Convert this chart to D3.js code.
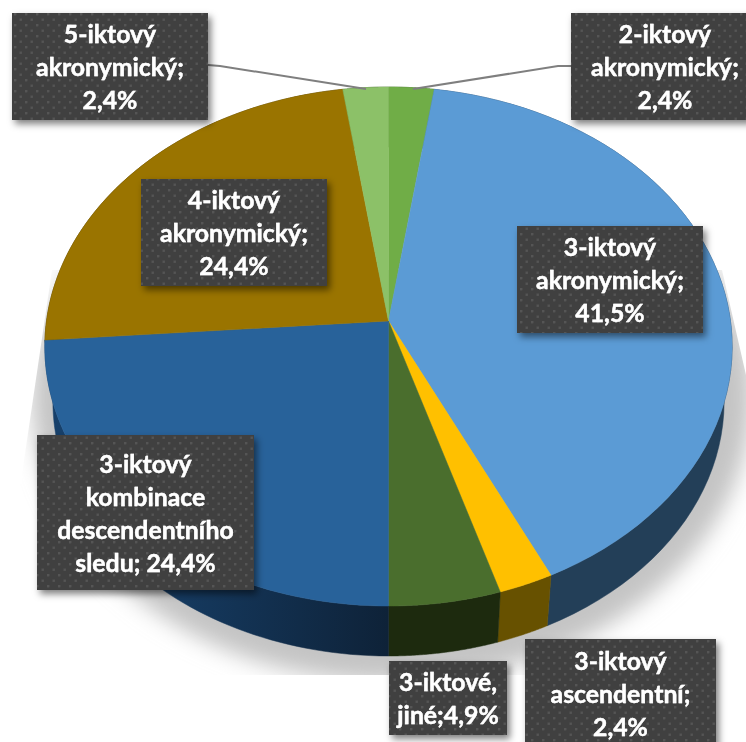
<!DOCTYPE html>
<html>
<head>
<meta charset="utf-8">
<script src="https://cdnjs.cloudflare.com/ajax/libs/d3/7.8.5/d3.min.js"></script>
<style>
html, body { margin: 0; padding: 0; background: #fff; overflow: hidden; }
svg { display: block; }
text { font-family: Lato, "Open Sans", sans-serif; font-weight: 700; fill: #fff; stroke: #fff; stroke-width: 0.35; text-anchor: middle; }
</style>
</head>
<body>
<svg id="chart" width="746" height="742"></svg>
<script>
var categories = ["2-iktový akronymický", "3-iktový akronymický", "3-iktový ascendentní", "3-iktové, jiné",
                  "3-iktový kombinace descendentního sledu", "4-iktový akronymický", "5-iktový akronymický"];
var values = [2.4, 41.5, 2.4, 4.9, 24.4, 24.4, 2.4];
var topColors = ["#70ad47", "#5b9bd5", "#ffc000", "#4a6e2d", "#28629a", "#9a7400", "#8cc168"];
var wallColors = ["#38572a", "#233f58", "#675100", "#1d2a0e", "url(#wallBlue)", "#3e2f00", "#384d2a"];
var labelLines = [
    ["2-iktový", "akronymický;", "2,4%"],
    ["3-iktový", "akronymický;", "41,5%"],
    ["3-iktový", "ascendentní;", "2,4%"],
    ["3-iktové,", "jiné;4,9%"],
    ["3-iktový", "kombinace", "descendentního", "sledu; 24,4%"],
    ["4-iktový", "akronymický;", "24,4%"],
    ["5-iktový", "akronymický;", "2,4%"]
];
// label boxes, same order as categories: left, top, right, bottom, text centre
var labelBoxes = [
    [571, 13, 750, 120, 665],
    [517, 226, 703, 333, 610],
    [525, 639, 716, 748, 620.5],
    [389, 661, 507, 735, 448],
    [37, 435, 254, 590, 145.5],
    [141, 179, 327, 286, 234],
    [12, 13, 208, 120, 110]
];
var leaderLines = [
    [[571, 66], [558, 66], [413, 89]],
    [[208, 65], [220, 66], [366, 89]]
];

var svg = d3.select("#chart"),
    defs = svg.append("defs");

var pattern = defs.append("pattern")
    .attr("id", "dots")
    .attr("patternUnits", "userSpaceOnUse")
    .attr("width", 11)
    .attr("height", 11);
pattern.append("rect").attr("width", 11).attr("height", 11).attr("fill", "#3f3f3f");
pattern.append("rect").attr("x", 3).attr("y", 2).attr("width", 2.4).attr("height", 2.4).attr("fill", "#555");
pattern.append("rect").attr("x", 8.5).attr("y", 7.5).attr("width", 2.4).attr("height", 2.4).attr("fill", "#555");

var wallBlue = defs.append("linearGradient")
    .attr("id", "wallBlue")
    .attr("gradientUnits", "userSpaceOnUse")
    .attr("x1", 120).attr("x2", 388).attr("y1", 0).attr("y2", 0);
wallBlue.append("stop").attr("offset", "0").attr("stop-color", "#17406a");
wallBlue.append("stop").attr("offset", "1").attr("stop-color", "#0e2238");

defs.append("filter").attr("id", "pieBlur")
    .attr("x", "-20%").attr("y", "-20%").attr("width", "140%").attr("height", "140%")
    .append("feGaussianBlur").attr("stdDeviation", 11);

var boxShadow = defs.append("filter").attr("id", "boxShadow")
    .attr("x", "-10%").attr("y", "-10%").attr("width", "125%").attr("height", "125%");
boxShadow.append("feDropShadow")
    .attr("dx", 3).attr("dy", 4).attr("stdDeviation", 3.5)
    .attr("flood-color", "#000").attr("flood-opacity", 0.5);

var textGlow = defs.append("filter").attr("id", "textGlow");
textGlow.append("feDropShadow")
    .attr("dx", 0).attr("dy", 0).attr("stdDeviation", 0.7)
    .attr("flood-color", "#fff").attr("flood-opacity", 0.45);

defs.append("clipPath").attr("id", "shadowClip")
    .append("polygon")
    .attr("points", "52,270 0,624 0,675 746,675 746,375 722,270");

// the pie is tilted, so the unit circle goes through a small perspective map
var persp = -0.0983;
function project(angle, shape) {
    var u = Math.sin(angle),
        v = -Math.cos(angle),
        w = 1 + persp * v;
    return [shape.cx + shape.rx * u / w, shape.cy + shape.ry * v / w];
}
var topShape = {cx: 388.5, cy: 321, rx: 342, ry: 257},
    bottomShape = {cx: 388.5, cy: 376.5, rx: 334, ry: 252};

function arcPoints(d, shape) {
    return d3.range(0, 61).map(function(i) {
        return project(d.startAngle + (d.endAngle - d.startAngle) * i / 60, shape);
    });
}

var pie = d3.pie().sort(null).value(function(d) { return d; });
var slices = pie(values);
var line = d3.line();

// shadow behind the pie, cut off hard at the plot area edge
svg.append("g")
    .attr("clip-path", "url(#shadowClip)")
    .append("ellipse")
    .attr("cx", 392).attr("cy", 397)
    .attr("rx", 360).attr("ry", 285)
    .attr("fill", "#c4c4c4")
    .attr("filter", "url(#pieBlur)");

svg.append("g").selectAll("path")
    .data(slices)
    .enter().append("path")
    .attr("d", function(d) {
        return line(arcPoints(d, topShape).concat(arcPoints(d, bottomShape).reverse())) + "Z";
    })
    .attr("fill", function(d, i) { return wallColors[i]; })
    .attr("stroke", function(d, i) { return wallColors[i]; })
    .attr("stroke-width", 0.5);

svg.append("g").selectAll("path")
    .data(slices)
    .enter().append("path")
    .attr("d", function(d) {
        return line([[topShape.cx, topShape.cy]].concat(arcPoints(d, topShape))) + "Z";
    })
    .attr("fill", function(d, i) { return topColors[i]; })
    .attr("stroke", function(d, i) { return topColors[i]; })
    .attr("stroke-width", 0.5);

svg.append("g").selectAll("path")
    .data(leaderLines)
    .enter().append("path")
    .attr("d", line)
    .attr("fill", "none")
    .attr("stroke", "#7f7f7f")
    .attr("stroke-width", 2);

var label = svg.append("g").selectAll("g")
    .data(categories)
    .enter().append("g");

label.append("rect")
    .attr("x", function(d, i) { return labelBoxes[i][0]; })
    .attr("y", function(d, i) { return labelBoxes[i][1]; })
    .attr("width", function(d, i) { return labelBoxes[i][2] - labelBoxes[i][0]; })
    .attr("height", function(d, i) { return labelBoxes[i][3] - labelBoxes[i][1]; })
    .attr("fill", "url(#dots)")
    .attr("filter", "url(#boxShadow)");

var lineStep = 33;
label.each(function(d, i) {
    var box = labelBoxes[i],
        lines = labelLines[i],
        // ascendentni box runs off the page, so measure from its top
        blockTop = i === 2 ? box[1] + 5 : box[1] + (box[3] - box[1] - lines.length * lineStep) / 2;
    d3.select(this).selectAll("text")
        .data(lines)
        .enter().append("text")
        .attr("x", box[4])
        .attr("y", function(t, j) { return blockTop + 26 + j * lineStep; })
        .attr("font-size", 24.8)
        .attr("filter", "url(#textGlow)")
        .text(function(t) { return t; });
});
</script>
</body>
</html>
